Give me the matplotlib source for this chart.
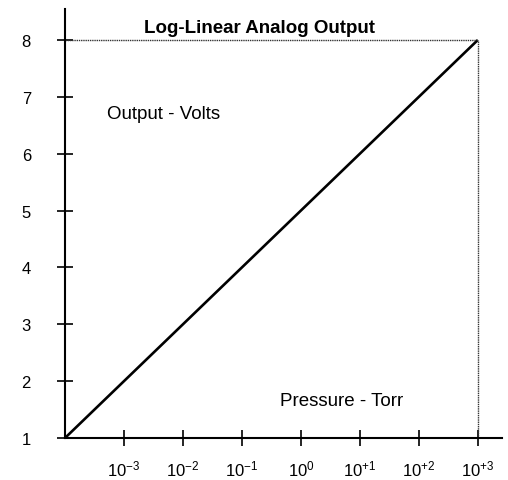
import matplotlib
matplotlib.use("Agg")
import matplotlib.pyplot as plt
import numpy as np

plt.rcParams['font.family'] = ['Liberation Sans', 'DejaVu Sans']
plt.rcParams['mathtext.fontset'] = 'custom'
plt.rcParams['mathtext.rm'] = 'Liberation Sans'
plt.rcParams['mathtext.default'] = 'regular'

# data
pressure = [1e-4, 1e3]
volts = [1, 8]
x_ticks = [1e-3, 1e-2, 1e-1, 1e0, 1e1, 1e2, 1e3]
x_labels = ['$10^{-3}$', '$10^{-2}$', '$10^{-1}$', '$10^{0}$',
            '$10^{+1}$', '$10^{+2}$', '$10^{+3}$']
y_ticks = [1, 2, 3, 4, 5, 6, 7, 8]

fig = plt.figure(figsize=(5.08, 4.81), dpi=100)
ax = fig.add_axes([65 / 508, 42 / 481, 437 / 508, 429 / 481])

ax.set_xscale('log')
ax.set_xlim(1e-4, 10 ** 3.41)
ax.set_ylim(1, 8.545)

ax.plot(pressure, volts, color='black', lw=1.9, solid_capstyle='butt')
# dotted guide lines to the full-scale point
ax.plot([pressure[0], pressure[1]], [volts[1], volts[1]], color='#333333',
        lw=1.0, ls=(0, (1, 0.6)))
ax.plot([pressure[1], pressure[1]], [volts[0], volts[1]], color='#333333',
        lw=1.0, ls=(0, (1, 0.6)))

ax.spines['top'].set_visible(False)
ax.spines['right'].set_visible(False)
ax.spines['left'].set_linewidth(1.5)
ax.spines['bottom'].set_linewidth(1.5)

ax.set_xticks(x_ticks)
ax.set_xticklabels(x_labels)
ax.minorticks_off()
ax.set_yticks(y_ticks)
ax.tick_params(axis='both', direction='inout', length=11, width=1.2,
               labelsize=12)
ax.tick_params(axis='x', pad=9)
ax.tick_params(axis='y', pad=19)

fig.text(260 / 508, 1 - 33 / 481, 'Log-Linear Analog Output', fontsize=13.5,
         fontweight='bold', ha='center', va='baseline')
fig.text(107 / 508, 1 - 119 / 481, 'Output - Volts', fontsize=13.5,
         ha='left', va='baseline')
fig.text(280 / 508, 1 - 406 / 481, 'Pressure - Torr', fontsize=13.5,
         ha='left', va='baseline')

fig.savefig('out.png', dpi=100)
